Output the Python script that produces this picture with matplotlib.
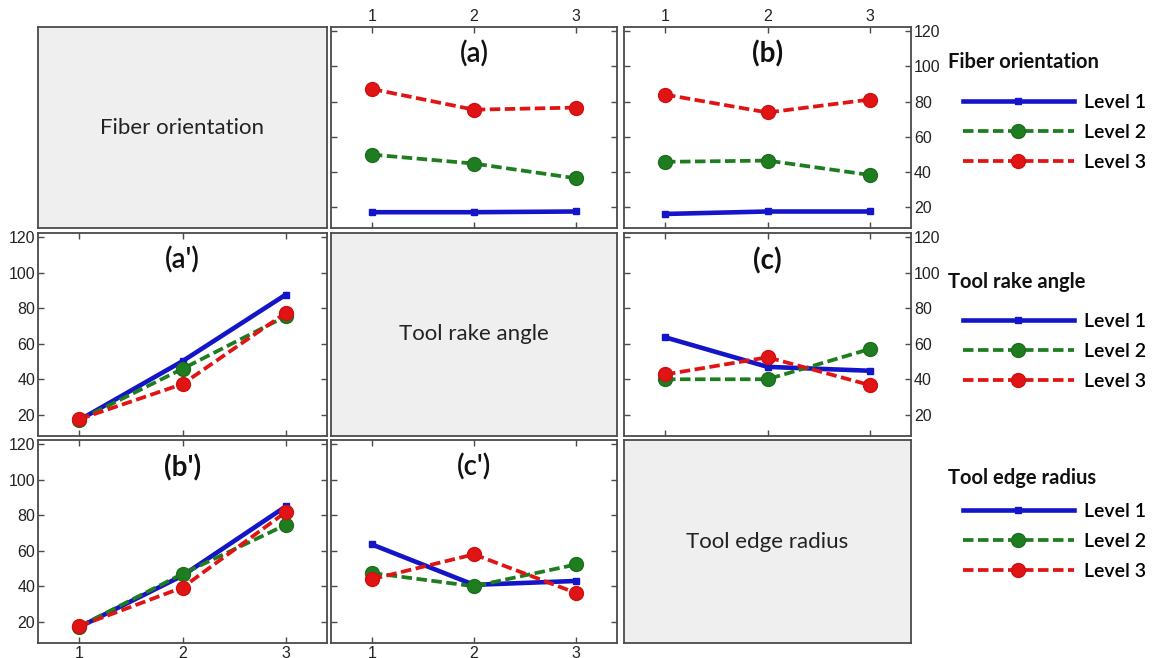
import matplotlib
matplotlib.use("Agg")
import matplotlib.pyplot as plt
from matplotlib.lines import Line2D

levels = [1, 2, 3]
series_labels = ["Level 1", "Level 2", "Level 3"]
factor_names = ["Fiber orientation", "Tool rake angle", "Tool edge radius"]

# panel values: Level1, Level2, Level3 series
panel_a = [[17, 17, 17.4], [49.8, 44.7, 36.3], [87.2, 75.4, 76.6]]
panel_b = [[16, 17.4, 17.4], [45.7, 46.4, 38.2], [84, 73.8, 81.2]]
panel_c = [[63.7, 47, 44.8], [40, 40, 57.1], [42.7, 52.4, 36.7]]
panel_a2 = [[17, 50.2, 87.7], [17, 45.9, 75.5], [17.5, 37.3, 77.4]]
panel_b2 = [[17, 46, 85], [17.3, 47, 74.6], [17.5, 39.3, 81.8]]
panel_c2 = [[63.6, 40.8, 43], [47.5, 40, 52.3], [44, 58, 36.2]]

yticks = [20, 40, 60, 80, 100, 120]

W, H = 1153, 658
fig = plt.figure(figsize=(W / 100, H / 100), dpi=100)

colors = ["#1414c8", "#1e7d1e", "#e01414"]
styles = [
    dict(ls="-", lw=3.3, marker="s", ms=4.5, mec="#1414c8"),
    dict(ls=(0, (2.8, 1.2)), lw=2.7, marker="o", ms=10, mec="#1e6e1e"),
    dict(ls=(0, (2.8, 1.2)), lw=2.7, marker="o", ms=10, mec="#d01010"),
]

cols = [(38, 327), (331, 617), (624, 911)]
rows = [(27, 228), (233, 436), (440, 643)]


def make_ax(r, c):
    x0, x1 = cols[c]
    y0, y1 = rows[r]
    return fig.add_axes([x0 / W, 1 - y1 / H, (x1 - x0) / W, (y1 - y0) / H])


spine_color = "#4a4a4a"
label_font = "Lato"

panels = {
    (0, 1): ("(a)", panel_a, "semibold"),
    (0, 2): ("(b)", panel_b, "bold"),
    (1, 0): ("(a')", panel_a2, "semibold"),
    (1, 2): ("(c)", panel_c, "bold"),
    (2, 0): ("(b')", panel_b2, "bold"),
    (2, 1): ("(c')", panel_c2, "semibold"),
}

for r in range(3):
    for c in range(3):
        ax = make_ax(r, c)
        for s in ax.spines.values():
            s.set_color(spine_color)
            s.set_linewidth(1.3)
        if r == c:
            ax.set_facecolor("#efefef")
            ax.set_xticks([])
            ax.set_yticks([])
            ax.text(0.5, 0.5, factor_names[r], ha="center", va="center",
                    transform=ax.transAxes, fontsize=16, family=label_font,
                    color="#222222")
            continue
        title, data, weight = panels[(r, c)]
        for i in range(3):
            st = styles[i]
            ax.plot(levels, data[i], color=colors[i], linestyle=st["ls"],
                    lw=st["lw"], marker=st["marker"], ms=st["ms"],
                    mfc=colors[i], mec=st["mec"], zorder=3 + i)
        ax.set_xlim(0.6, 3.4)
        ax.set_ylim(8, 122.5)
        ax.set_xticks(levels)
        ax.set_yticks(yticks)
        ax.tick_params(direction="in", length=4, width=1, color=spine_color,
                       top=True, bottom=True, left=True, right=True,
                       labeltop=(r == 0), labelbottom=(r == 2),
                       labelleft=(c == 0), labelright=(c == 2),
                       labelsize=11.5, labelcolor="#222222", pad=2)
        for lab in ax.get_xticklabels() + ax.get_yticklabels():
            lab.set_family("Liberation Sans")
        ax.text(2, 107, title, ha="center", va="center", fontsize=20,
                family=label_font, fontweight=weight, color="#111111")

# legends on the right
title_y = [62, 282, 478]
leg_tops = [94, 313, 503]
for k, name in enumerate(factor_names):
    fig.text(948 / W, 1 - title_y[k] / H, name, ha="left", va="center",
             fontsize=14.5, family=label_font, fontweight="bold",
             color="#111111")
    handles = []
    for i in range(3):
        st = styles[i]
        handles.append(Line2D([], [], color=colors[i], linestyle=st["ls"],
                              lw=st["lw"], marker=st["marker"], ms=st["ms"],
                              mfc=colors[i], mec=st["mec"]))
    fig.legend(handles, series_labels, loc="upper left",
               bbox_to_anchor=(963 / W, 1 - leg_tops[k] / H), frameon=False,
               borderpad=0, borderaxespad=0,
               handlelength=5.7, handletextpad=0.5, labelspacing=0.66,
               numpoints=1,
               prop=dict(family=label_font, size=14, weight="semibold"))

fig.savefig("out.png", dpi=100)
